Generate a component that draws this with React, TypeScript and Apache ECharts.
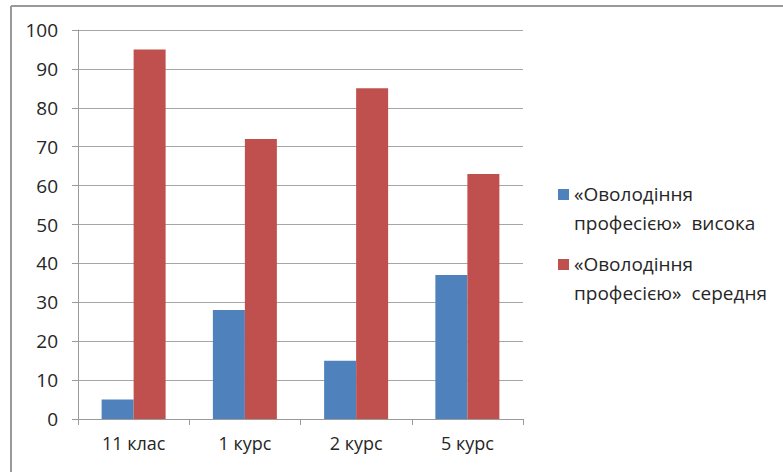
import React, { useEffect, useRef } from "react";
import * as echarts from "echarts";

const categories = ["11 клас", "1 курс", "2 курс", "5 курс"];
const seriesNames = ["«Оволодіння\nпрофесією»  висока", "«Оволодіння\nпрофесією»  середня"];
const highValues = [5, 28, 15, 37];
const mediumValues = [95, 72, 85, 63];
const colors = ["#4F81BD", "#C0504D"];

const FONT = "'Open Sans', sans-serif";

export default function App() {
  const ref = useRef<HTMLDivElement>(null);
  useEffect(() => {
    document.body.style.margin = "0";
    const chart = echarts.init(ref.current!, null, { renderer: "svg" });
    const legendItems: any[] = [];
    seriesNames.forEach((name, i) => {
      const y = 189 + i * 70;
      legendItems.push({
        type: "rect",
        shape: { x: 558, y: y, width: 11, height: 11 },
        style: { fill: colors[i] },
      });
      legendItems.push({
        type: "text",
        x: 574,
        y: y - 10,
        style: {
          text: name,
          font: `19px ${FONT}`,
          fill: "#262626",
          lineHeight: 29,
        },
      });
    });
    chart.setOption({
      animation: false,
      backgroundColor: "#fff",
      textStyle: { fontFamily: FONT },
      grid: { left: 78, top: 30, right: 260, bottom: 53, containLabel: false },
      xAxis: {
        type: "category",
        data: categories,
        axisLine: { lineStyle: { color: "#9a9a9a", width: 1 } },
        axisTick: { show: true, length: 6, lineStyle: { color: "#9a9a9a" } },
        axisLabel: { color: "#262626", fontSize: 18, margin: 15, fontFamily: FONT },
      },
      yAxis: {
        type: "value",
        min: 0,
        max: 100,
        interval: 10,
        axisLine: { show: true, lineStyle: { color: "#9a9a9a", width: 1 } },
        axisTick: { show: true, length: 6, lineStyle: { color: "#9a9a9a" } },
        splitLine: { lineStyle: { color: "#a6a6a6", width: 1 } },
        axisLabel: { color: "#262626", fontSize: 19, margin: 20, fontFamily: FONT },
      },
      series: [
        {
          name: seriesNames[0],
          type: "bar",
          data: highValues,
          barWidth: 32,
          barGap: "0%",
          itemStyle: { color: colors[0] },
        },
        {
          name: seriesNames[1],
          type: "bar",
          data: mediumValues,
          barWidth: 32,
          barGap: "0%",
          itemStyle: { color: colors[1] },
        },
      ],
      graphic: [
        {
          type: "line",
          shape: { x1: 11, y1: 6, x2: 783, y2: 6 },
          style: { stroke: "#999", lineWidth: 2 },
        },
        {
          type: "line",
          shape: { x1: 11, y1: 6, x2: 11, y2: 472 },
          style: { stroke: "#999", lineWidth: 2 },
        },
        ...legendItems,
      ],
    });
    return () => chart.dispose();
  }, []);
  return <div ref={ref} style={{ position: "fixed", left: 0, top: 0, width: 783, height: 472 }} />;
}
